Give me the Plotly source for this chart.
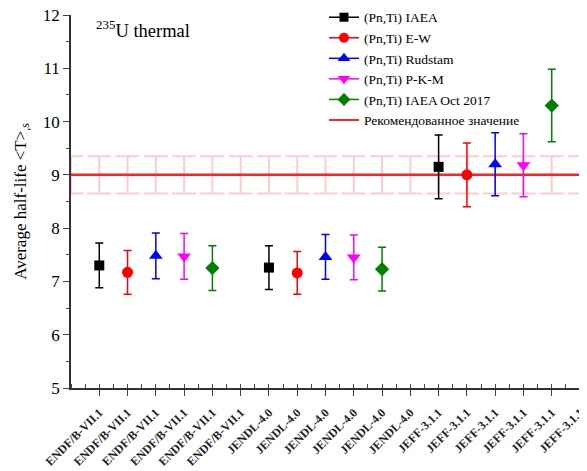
import plotly.graph_objects as go

libraries = ["ENDF/B-VII.1", "JENDL-4.0", "JEFF-3.1.1"]
series_names = ["(Pn,Ti) IAEA", "(Pn,Ti) E-W", "(Pn,Ti) Rudstam", "(Pn,Ti) P-K-M", "(Pn,Ti) IAEA Oct 2017"]
# values per series for [ENDF, JENDL, JEFF]
iaea = [7.30, 7.26, 9.15]
iaea_err = [0.42, 0.41, 0.60]
ew = [7.17, 7.16, 9.00]
ew_err = [0.41, 0.40, 0.60]
rudstam = [7.48, 7.46, 9.20]
rudstam_err = [0.43, 0.42, 0.59]
pkm = [7.47, 7.45, 9.18]
pkm_err = [0.43, 0.42, 0.59]
iaea2017 = [7.25, 7.23, 10.30]
iaea2017_err = [0.42, 0.41, 0.68]
recommended = 9.0
recommended_err = 0.35

values = [iaea, ew, rudstam, pkm, iaea2017]
errors = [iaea_err, ew_err, rudstam_err, pkm_err, iaea2017_err]
colors = ["#000000", "#FF0000", "#0000FF", "#FF00FF", "#008000"]
symbols = ["square", "circle", "triangle-up", "triangle-down", "diamond"]
sizes = [10, 11, 12, 12, 11]

n_per_group = 6
tick_positions = list(range(1, len(libraries) * n_per_group + 1))
tick_labels = [lib for lib in libraries for _ in range(n_per_group)]

fig = go.Figure()

# recommended value band (error bars) and line
rec_x = list(range(0, len(tick_positions) + 1))
fig.add_trace(go.Scatter(
    x=rec_x, y=[recommended] * len(rec_x), mode="markers",
    marker=dict(size=1, color="rgba(255,0,0,0)"),
    error_y=dict(type="constant", value=recommended_err, color="rgba(255,0,0,0.2)",
                 thickness=2, width=12),
    showlegend=False, hoverinfo="skip"))
fig.add_trace(go.Scatter(
    x=[0, len(tick_positions)], y=[recommended, recommended], mode="lines",
    line=dict(color="#FF2020", width=2.5), showlegend=False, hoverinfo="skip"))

for s, name in enumerate(series_names):
    xs = [g * n_per_group + 1 + s for g in range(len(libraries))]
    fig.add_trace(go.Scatter(
        x=xs, y=values[s], mode="markers",
        marker=dict(symbol=symbols[s], size=sizes[s], color=colors[s]),
        error_y=dict(type="data", array=errors[s], color=colors[s], thickness=1.5, width=4),
        showlegend=False, name=name))

# legend entries
for s, name in enumerate(series_names):
    fig.add_trace(go.Scatter(
        x=[None], y=[None], mode="lines+markers", name=name,
        marker=dict(symbol=symbols[s], size=sizes[s] - 1, color=colors[s]),
        line=dict(color=colors[s], width=1.5)))
fig.add_trace(go.Scatter(
    x=[None], y=[None], mode="lines", name="Рекомендованное значение",
    line=dict(color="#FF2020", width=2)))

fig.update_layout(
    width=579, height=463,
    margin=dict(l=63, r=7, t=7, b=83, autoexpand=False),
    paper_bgcolor="white", plot_bgcolor="white",
    font=dict(family="Liberation Serif", color="black", size=16),
    showlegend=True,
    legend=dict(x=0.497, y=1.035, xanchor="left", yanchor="top",
                font=dict(size=13.5, family="Liberation Serif"),
                bgcolor="rgba(0,0,0,0)", tracegroupgap=0, itemwidth=30),
    annotations=[dict(text="<sup>235</sup>U thermal", x=0.045, y=1.0,
                      xref="paper", yref="paper", xanchor="left", yanchor="top",
                      showarrow=False, font=dict(size=18.5, family="Liberation Serif"))],
)

fig.update_xaxes(
    range=[0, len(tick_positions)], tickmode="array", tickvals=tick_positions,
    ticktext=tick_labels, tickangle=-45, ticks="outside", ticklen=6, tickwidth=1.3,
    showline=True, linecolor="#333", linewidth=1.5, showgrid=False, zeroline=False,
    automargin=False, ticklabelstandoff=5, ticklabeloverflow="allow",
    tickfont=dict(size=12, family="Liberation Serif", weight="bold", color="#222"),
    minor=dict(ticks="inside", ticklen=4, tickwidth=1.3, dtick=0.5, tick0=0.5, showgrid=False),
)
fig.update_yaxes(
    range=[5, 12], tickmode="linear", tick0=5, dtick=1, ticks="outside", ticklen=6,
    tickwidth=1.3, showline=True, linecolor="#333", linewidth=1.5, showgrid=False,
    zeroline=False, automargin=False, ticklabeloverflow="allow", tickfont=dict(size=17),
    minor=dict(ticks="outside", ticklen=3, tickwidth=1.3, dtick=0.5, showgrid=False),
    title=dict(text="Average half-life &lt;T&gt;<sub>,s</sub>", font=dict(size=17), standoff=12),
)

fig.write_html("out.html")
